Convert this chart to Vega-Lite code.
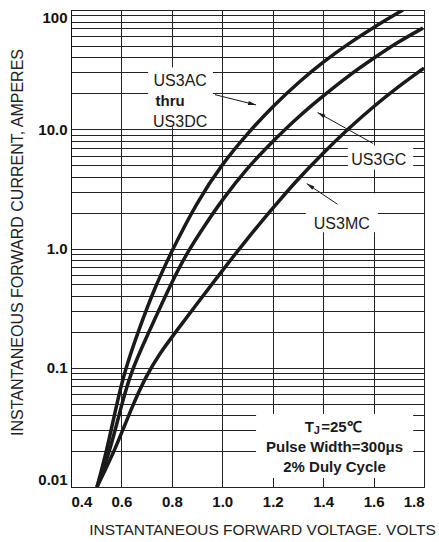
{
  "$schema": "https://vega.github.io/schema/vega-lite/v6.json",
  "width": 353,
  "height": 477,
  "autosize": "none",
  "padding": {"left": 71, "top": 10, "right": 15, "bottom": 55},
  "background": "white",
  "config": {"font": "Liberation Sans", "view": {"stroke": "#222", "strokeWidth": 1}},
  "datasets": {
    "curves": [
      {"s": "A", "v": 0.503, "i": 0.01},
      {"s": "A", "v": 0.5416, "i": 0.02},
      {"s": "A", "v": 0.5813, "i": 0.0497},
      {"s": "A", "v": 0.6142, "i": 0.0958},
      {"s": "A", "v": 0.6697, "i": 0.211},
      {"s": "A", "v": 0.7332, "i": 0.4755},
      {"s": "A", "v": 0.7994, "i": 0.953},
      {"s": "A", "v": 0.8997, "i": 2.455},
      {"s": "A", "v": 0.9989, "i": 5.11},
      {"s": "A", "v": 1.098, "i": 9.13},
      {"s": "A", "v": 1.2011, "i": 15.67},
      {"s": "A", "v": 1.3082, "i": 25.4},
      {"s": "A", "v": 1.3994, "i": 36.6},
      {"s": "A", "v": 1.4986, "i": 51.9},
      {"s": "A", "v": 1.6017, "i": 72.0},
      {"s": "A", "v": 1.7167, "i": 100},
      {"s": "B", "v": 0.503, "i": 0.01},
      {"s": "B", "v": 0.5547, "i": 0.02},
      {"s": "B", "v": 0.6011, "i": 0.0497},
      {"s": "B", "v": 0.6407, "i": 0.0958},
      {"s": "B", "v": 0.7054, "i": 0.192},
      {"s": "B", "v": 0.7994, "i": 0.5236},
      {"s": "B", "v": 0.864, "i": 0.953},
      {"s": "B", "v": 0.9315, "i": 1.574},
      {"s": "B", "v": 0.9989, "i": 2.55},
      {"s": "B", "v": 1.098, "i": 4.73},
      {"s": "B", "v": 1.2012, "i": 7.97},
      {"s": "B", "v": 1.3003, "i": 12.67},
      {"s": "B", "v": 1.3995, "i": 19.0},
      {"s": "B", "v": 1.4986, "i": 27.96},
      {"s": "B", "v": 1.6017, "i": 39.6},
      {"s": "B", "v": 1.6969, "i": 53.9},
      {"s": "B", "v": 1.796, "i": 70.6},
      {"s": "C", "v": 0.503, "i": 0.01},
      {"s": "C", "v": 0.5745, "i": 0.0204},
      {"s": "C", "v": 0.638, "i": 0.0451},
      {"s": "C", "v": 0.6975, "i": 0.0853},
      {"s": "C", "v": 0.753, "i": 0.133},
      {"s": "C", "v": 0.8125, "i": 0.1956},
      {"s": "C", "v": 0.8958, "i": 0.336},
      {"s": "C", "v": 0.9989, "i": 0.6476},
      {"s": "C", "v": 1.098, "i": 1.201},
      {"s": "C", "v": 1.1972, "i": 2.144},
      {"s": "C", "v": 1.2964, "i": 3.753},
      {"s": "C", "v": 1.3955, "i": 6.2},
      {"s": "C", "v": 1.4986, "i": 10.05},
      {"s": "C", "v": 1.6017, "i": 15.67},
      {"s": "C", "v": 1.7009, "i": 23.05},
      {"s": "C", "v": 1.8, "i": 32.6}
    ],
    "boxes": [
      {"v": 0.706, "v2": 0.963, "i": 10.4, "i2": 33},
      {"v": 1.498, "v2": 1.757, "i": 4.6, "i2": 7.3},
      {"v": 1.331, "v2": 1.617, "i": 1.37, "i2": 2.9},
      {"v": 1.134, "v2": 1.757, "i": 0.0119, "i2": 0.041}
    ],
    "labels": [
      {"t": "US3AC", "v": 0.833, "i": 25.5},
      {"t": "US3DC", "v": 0.833, "i": 11.6},
      {"t": "US3GC", "v": 1.621, "i": 5.5},
      {"t": "US3MC", "v": 1.474, "i": 1.62}
    ],
    "bold": [
      {"t": "thru", "v": 0.793, "i": 17.2},
      {"t": "Pulse Width=300μs", "v": 1.445, "i": 0.0216},
      {"t": "2% Duly Cycle", "v": 1.445, "i": 0.0148}
    ],
    "tj": [{"t": "T", "v": 1.363, "i": 0.0318}],
    "tjsub": [{"t": "J", "v": 1.363, "i": 0.0318}],
    "tjrest": [{"t": "=25℃", "v": 1.392, "i": 0.0318}],
    "arrows": [
      {"a": "A", "v": 0.971, "i": 19.5, "v2": 1.134, "i2": 16.0},
      {"a": "G", "v": 1.598, "i": 7.6, "v2": 1.378, "i2": 13.8},
      {"a": "M", "v": 1.457, "i": 2.35, "v2": 1.335, "i2": 3.5}
    ]
  },
  "encoding": {
    "x": {
      "field": "v", "type": "quantitative",
      "scale": {"domain": [0.4, 1.8], "nice": false, "zero": false},
      "axis": {
        "values": [0.4, 0.6, 0.8, 1.0, 1.2, 1.4, 1.6, 1.8],
        "format": ".1f",
        "labelFlush": true,
        "labelFontWeight": "bold",
        "labelFontSize": 15,
        "labelColor": "#111",
        "labelPadding": 7,
        "ticks": false,
        "domain": false,
        "grid": true,
        "gridColor": "#222",
        "gridWidth": 1,
        "gridOpacity": 1,
        "titleFontSize": 15.5,
        "titleFontWeight": "normal",
        "titleColor": "#222",
        "titlePadding": 13,
        "titleX": 191
      },
      "title": "INSTANTANEOUS FORWARD VOLTAGE. VOLTS"
    },
    "y": {
      "field": "i", "type": "quantitative",
      "scale": {"type": "log", "domain": [0.01, 100], "nice": false},
      "axis": {
        "values": [0.01, 0.02, 0.03, 0.04, 0.05, 0.06, 0.07, 0.08, 0.09, 0.1, 0.2, 0.3, 0.4, 0.5, 0.6, 0.7, 0.8, 0.9, 1, 2, 3, 4, 5, 6, 7, 8, 9, 10, 20, 30, 40, 50, 60, 70, 80, 90, 100],
        "labelExpr": "datum.value == 100 ? '100' : datum.value == 10 ? '10.0' : datum.value == 1 ? '1.0' : datum.value == 0.1 ? '0.1' : datum.value == 0.01 ? '0.01' : ''",
        "labelFlush": true,
        "labelOverlap": false,
        "labelFontWeight": "bold",
        "labelFontSize": 15,
        "labelColor": "#111",
        "labelPadding": 4,
        "ticks": false,
        "domain": true,
        "domainColor": "#111",
        "grid": true,
        "gridColor": "#222",
        "gridWidth": 1,
        "gridOpacity": 1,
        "titleFontSize": 16,
        "titleFontWeight": "normal",
        "titleColor": "#222",
        "titlePadding": 12,
        "titleY": 232
      },
      "title": "INSTANTANEOUS FORWARD CURRENT, AMPERES"
    }
  },
  "layer": [
    {
      "data": {"name": "boxes"},
      "mark": {"type": "rect", "color": "white"},
      "encoding": {
        "x2": {"field": "v2"},
        "y2": {"field": "i2"}
      }
    },
    {
      "data": {"name": "curves"},
      "mark": {"type": "line", "color": "#1a1a1a", "strokeWidth": 3.5, "interpolate": "basis", "clip": true},
      "encoding": {
        "detail": {"field": "s"}
      }
    },
    {
      "data": {"name": "labels"},
      "mark": {"type": "text", "fontSize": 16, "color": "#1a1a1a", "align": "center", "baseline": "middle"},
      "encoding": {"text": {"field": "t"}}
    },
    {
      "data": {"name": "bold"},
      "mark": {"type": "text", "fontSize": 15, "fontWeight": "bold", "color": "#1a1a1a", "align": "center", "baseline": "middle"},
      "encoding": {"text": {"field": "t"}}
    },
    {
      "data": {"name": "tj"},
      "mark": {"type": "text", "fontSize": 15, "fontWeight": "bold", "color": "#1a1a1a", "align": "right", "baseline": "middle"},
      "encoding": {"text": {"field": "t"}}
    },
    {
      "data": {"name": "tjsub"},
      "mark": {"type": "text", "fontSize": 11, "fontWeight": "bold", "color": "#1a1a1a", "align": "left", "baseline": "middle", "dy": 4},
      "encoding": {"text": {"field": "t"}}
    },
    {
      "data": {"name": "tjrest"},
      "mark": {"type": "text", "fontSize": 15, "fontWeight": "bold", "color": "#1a1a1a", "align": "left", "baseline": "middle"},
      "encoding": {"text": {"field": "t"}}
    },
    {
      "data": {"name": "arrows"},
      "mark": {"type": "rule", "color": "#1a1a1a", "strokeWidth": 1},
      "encoding": {
        "x2": {"field": "v2"},
        "y2": {"field": "i2"}
      }
    },
    {
      "data": {"name": "arrows"},
      "transform": [{"filter": "datum.a == 'A'"}],
      "mark": {"type": "point", "shape": "M0,0L-1,-0.25L-1,0.25Z", "size": 256, "filled": true, "color": "#1a1a1a", "opacity": 1, "angle": 14},
      "encoding": {
        "x": {"field": "v2", "type": "quantitative"},
        "y": {"field": "i2", "type": "quantitative"}
      }
    },
    {
      "data": {"name": "arrows"},
      "transform": [{"filter": "datum.a == 'G'"}],
      "mark": {"type": "point", "shape": "M0,0L-1,-0.25L-1,0.25Z", "size": 256, "filled": true, "color": "#1a1a1a", "opacity": 1, "angle": 210},
      "encoding": {
        "x": {"field": "v2", "type": "quantitative"},
        "y": {"field": "i2", "type": "quantitative"}
      }
    },
    {
      "data": {"name": "arrows"},
      "transform": [{"filter": "datum.a == 'M'"}],
      "mark": {"type": "point", "shape": "M0,0L-1,-0.25L-1,0.25Z", "size": 256, "filled": true, "color": "#1a1a1a", "opacity": 1, "angle": 214},
      "encoding": {
        "x": {"field": "v2", "type": "quantitative"},
        "y": {"field": "i2", "type": "quantitative"}
      }
    }
  ]
}
